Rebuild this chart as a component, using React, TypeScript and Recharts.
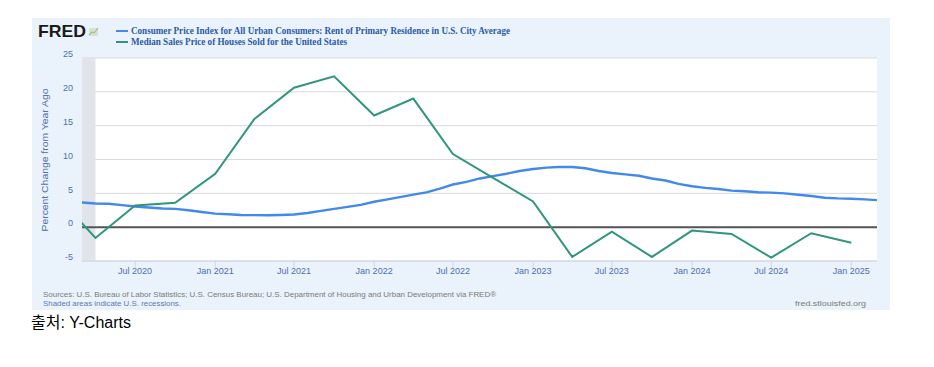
import React from "react";
import {
  LineChart,
  Line,
  XAxis,
  YAxis,
  CartesianGrid,
  ReferenceLine,
  ReferenceArea,
} from "recharts";

// ---- Data ----
const rentStartMonth = "2020-03";
const rentYoY = [
  3.65, 3.5, 3.45, 3.25, 3.05, 2.9, 2.75, 2.7, 2.5, 2.25, // Mar20 - Dec20
  2.0, 1.9, 1.8, 1.78, 1.77, 1.8, 1.87, 2.1, 2.4, 2.7, 3.0, 3.3, // 2021
  3.75, 4.1, 4.45, 4.8, 5.15, 5.7, 6.3, 6.7, 7.2, 7.55, 7.9, 8.3, // 2022
  8.6, 8.8, 8.9, 8.9, 8.7, 8.3, 8.0, 7.8, 7.6, 7.2, 6.9, 6.4, // 2023
  6.05, 5.8, 5.65, 5.4, 5.3, 5.15, 5.1, 5.0, 4.8, 4.6, 4.35, 4.25, // 2024
  4.2, 4.1, 4.0, // 2025
];

const priceQuarters = [
  "2020-01", "2020-04", "2020-07", "2020-10",
  "2021-01", "2021-04", "2021-07", "2021-10",
  "2022-01", "2022-04", "2022-07", "2022-10",
  "2023-01", "2023-04", "2023-07", "2023-10",
  "2024-01", "2024-04", "2024-07", "2024-10",
  "2025-01",
];
const priceYoY = [
  4.8, -1.6, 3.2, 3.6,
  7.9, 16.0, 20.6, 22.3,
  16.5, 19.0, 10.8, 7.3,
  3.8, -4.4, -0.65, -4.4,
  -0.5, -1.0, -4.5, -0.9,
  -2.3,
];

const xTickMonths = [
  "2020-07", "2021-01", "2021-07", "2022-01", "2022-07",
  "2023-01", "2023-07", "2024-01", "2024-07", "2025-01",
];
const xTickLabels = [
  "Jul 2020", "Jan 2021", "Jul 2021", "Jan 2022", "Jul 2022",
  "Jan 2023", "Jul 2023", "Jan 2024", "Jul 2024", "Jan 2025",
];
const yTicks = [-5, 0, 5, 10, 15, 20, 25];
const xDomainMonths = ["2020-03", "2025-03"];
const recessionMonths = ["2020-02", "2020-04"];

const seriesNames = [
  "Consumer Price Index for All Urban Consumers: Rent of Primary Residence in U.S. City Average",
  "Median Sales Price of Houses Sold for the United States",
];

// ---- helpers ----
const ts = (s: string) =>
  Date.UTC(parseInt(s.slice(0, 4), 10), parseInt(s.slice(5, 7), 10) - 1, 1);

const addMonths = (s: string, n: number) => {
  const y = parseInt(s.slice(0, 4), 10);
  const m = parseInt(s.slice(5, 7), 10) - 1 + n;
  return Date.UTC(y + Math.floor(m / 12), m % 12, 1);
};

const rentData = rentYoY.map((v, i) => ({ t: addMonths(rentStartMonth, i), v }));
const priceData = priceQuarters.map((q, i) => ({ t: ts(q), v: priceYoY[i] }));
const xTicks = xTickMonths.map(ts);
const xLabelMap: Record<number, string> = {};
xTicks.forEach((t, i) => (xLabelMap[t] = xTickLabels[i]));
const xDomain = [ts(xDomainMonths[0]), ts(xDomainMonths[1])];
const recStart = Math.max(ts(recessionMonths[0]), xDomain[0]);
const recEnd = ts(recessionMonths[1]);

const BLUE = "#4189ea";
const GREEN = "#2f957d";
const TICK_COLOR = "#4d6fae";
const SANS = "'Liberation Sans', Arial, sans-serif";

const YTick = (props: any) => {
  const { x, y, payload } = props;
  return (
    <text
      x={x}
      y={y - 0.8}
      textAnchor="end"
      fill={TICK_COLOR}
      fontSize={9}
      fontFamily={SANS}
    >
      {payload.value}
    </text>
  );
};

const XTick = (props: any) => {
  const { x, y, payload } = props;
  return (
    <g>
      <line x1={x} x2={x} y1={y} y2={y + 7} stroke="#ccd6eb" strokeWidth={1} />
      <text
        x={x}
        y={y + 13}
        textAnchor="middle"
        fill={TICK_COLOR}
        fontSize={9}
        fontFamily={SANS}
      >
        {xLabelMap[payload.value] ?? ""}
      </text>
    </g>
  );
};

export default function App() {
  return (
    <div
      style={{
        position: "absolute",
        left: 0,
        top: 0,
        width: 934,
        height: 367,
        background: "#ffffff",
        overflow: "hidden",
      }}
    >
      <div
        style={{
          position: "absolute",
          left: 32,
          top: 18,
          width: 858,
          height: 292,
          background: "#eaf2fb",
        }}
      />
      <div style={{ position: "absolute", left: 0, top: 0 }}>
        <LineChart
          width={934}
          height={367}
          margin={{ top: 58, right: 57, bottom: 76, left: 32 }}
        >
          <CartesianGrid
            vertical={false}
            stroke="#d9d9d9"
            strokeWidth={1}
            fill="#ffffff"
            fillOpacity={1}
          />
          <XAxis
            type="number"
            dataKey="t"
            domain={xDomain}
            allowDataOverflow
            ticks={xTicks}
            tick={<XTick />}
            tickLine={false}
            tickSize={0}
            tickMargin={0}
            axisLine={{ stroke: "#ccd6eb", strokeWidth: 1 }}
            height={30}
            interval={0}
          />
          <YAxis
            type="number"
            domain={[-5, 25]}
            ticks={yTicks}
            tick={<YTick />}
            tickLine={false}
            tickSize={0}
            tickMargin={9}
            axisLine={false}
            width={50}
            interval={0}
          />
          <ReferenceArea
            x1={recStart}
            x2={recEnd}
            y1={-5}
            y2={25}
            fill="#e1e5ea"
            fillOpacity={1}
            stroke="none"
          />
          <ReferenceLine y={0} stroke="#555555" strokeWidth={2} />
          <Line
            data={rentData}
            dataKey="v"
            type="linear"
            stroke={BLUE}
            strokeWidth={2.4}
            dot={false}
            activeDot={false}
            isAnimationActive={false}
          />
          <Line
            data={priceData}
            dataKey="v"
            type="linear"
            stroke={GREEN}
            strokeWidth={2}
            dot={false}
            activeDot={false}
            isAnimationActive={false}
          />
        </LineChart>
      </div>
      <svg
        width={934}
        height={367}
        style={{ position: "absolute", left: 0, top: 0, pointerEvents: "none" }}
      >
        {/* FRED logo */}
        <text
          x={38}
          y={37}
          fontFamily={SANS}
          fontWeight={900}
          fontSize={16.5}
          fill="#1a1a1a"
          textLength={48}
          lengthAdjust="spacingAndGlyphs"
        >
          FRED
        </text>
        <rect x={89} y={28} width={9} height={8} fill="#d8e2d4" />
        <polyline
          points="89,35 92,32 94,33 98,28"
          fill="none"
          stroke="#9cc38d"
          strokeWidth={1.2}
        />
        {/* Legend */}
        <line x1={116} x2={128} y1={31} y2={31} stroke={BLUE} strokeWidth={2} />
        <line x1={116} x2={128} y1={42} y2={42} stroke={GREEN} strokeWidth={2} />
        <text
          x={131}
          y={34}
          fontFamily="'Liberation Serif', 'Times New Roman', serif"
          fontWeight={700}
          fontSize={9.3}
          fill="#2b5ba8"
          textLength={379}
          lengthAdjust="spacingAndGlyphs"
        >
          {seriesNames[0]}
        </text>
        <text
          x={131}
          y={45}
          fontFamily="'Liberation Serif', 'Times New Roman', serif"
          fontWeight={700}
          fontSize={9.3}
          fill="#2b5ba8"
          textLength={216}
          lengthAdjust="spacingAndGlyphs"
        >
          {seriesNames[1]}
        </text>
        {/* Y-axis title */}
        <text
          x={0}
          y={0}
          transform="translate(48,160) rotate(-90)"
          textAnchor="middle"
          fontFamily={SANS}
          fontSize={9.5}
          fill={TICK_COLOR}
          textLength={143}
          lengthAdjust="spacingAndGlyphs"
        >
          Percent Change from Year Ago
        </text>
        {/* Footer */}
        <text
          x={43}
          y={297}
          fontFamily={SANS}
          fontSize={8}
          fill="#7a7a7a"
          textLength={453}
          lengthAdjust="spacingAndGlyphs"
        >
          Sources: U.S. Bureau of Labor Statistics; U.S. Census Bureau; U.S. Department of Housing and Urban Development via FRED®
        </text>
        <text
          x={43}
          y={306}
          fontFamily={SANS}
          fontSize={8}
          fill="#5a79b5"
          textLength={138}
          lengthAdjust="spacingAndGlyphs"
        >
          Shaded areas indicate U.S. recessions.
        </text>
        <text
          x={866}
          y={306}
          textAnchor="end"
          fontFamily={SANS}
          fontSize={8}
          fill="#7a7a7a"
          textLength={71}
          lengthAdjust="spacingAndGlyphs"
        >
          fred.stlouisfed.org
        </text>
        <text
          x={31}
          y={328}
          fontFamily="'Liberation Sans', Arial, 'Noto Sans CJK KR', sans-serif"
          fontSize={16}
          fill="#000000"
        >
          출처: Y-Charts
        </text>
      </svg>
    </div>
  );
}
